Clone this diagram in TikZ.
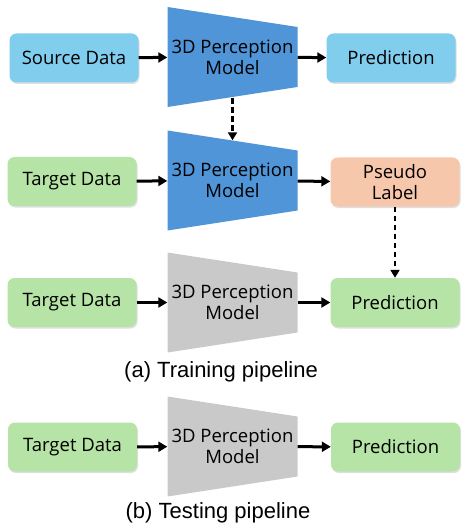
\documentclass[tikz,border=0pt]{standalone}
\usepackage{fontspec}
\setmainfont{Liberation Sans}
\newfontfamily\boxfont{Open Sans}
\usepackage{tikz}
\usetikzlibrary{arrows.meta,positioning,calc,shadows}
\usepackage{xcolor}
\definecolor{skyblue}{RGB}{128,205,237}
\definecolor{modelblue}{RGB}{80,149,216}
\definecolor{softgreen}{RGB}{182,228,166}
\definecolor{softpeach}{RGB}{247,199,172}
\definecolor{modelgray}{RGB}{201,201,201}

\tikzset{
    databox/.style={rounded corners=7pt, minimum width=129pt, minimum height=49pt,
        fill=#1, align=center, font=\boxfont\fontsize{18.5}{21}\selectfont,
        drop shadow={shadow xshift=1pt, shadow yshift=-1.5pt, opacity=0.25}},
    model/.style={minimum width=130pt, minimum height=100pt, inner sep=0pt,
        align=center, font=\boxfont\fontsize{18.5}{21}\selectfont,
        path picture={\fill[#1] (path picture bounding box.north west)
            -- ($(path picture bounding box.north east)+(0,-20pt)$)
            -- ($(path picture bounding box.south east)+(0,20pt)$)
            -- (path picture bounding box.south west) -- cycle;}},
    flow/.style={-{Triangle[length=9pt,width=10pt]}, line width=3pt},
    guide/.style={-{Triangle[length=8pt,width=9pt]}, line width=2.4pt, dash pattern=on 5.5pt off 3.5pt},
    caption/.style={font=\fontsize{22}{26}\selectfont}
}

\begin{document}
\begin{tikzpicture}[x=1pt,y=-1pt]
    \useasboundingbox (0,0) rectangle (467,529);
    % (a) training pipeline
    \node[databox=skyblue] (src) at (74,58) {Source Data};
    \node[model=modelblue] (m1) at (232.5,57) {3D Perception\\Model};
    \node[databox=skyblue] (pred1) at (391,58) {Prediction};

    \node[databox=softgreen] (tgt2) at (72,181.5) {Target Data};
    \node[model=modelblue] (m2) at (232.5,180.5) {3D Perception\\Model};
    \node[databox=softpeach] (pseudo) at (395,182) {Pseudo\\Label};

    \node[databox=softgreen] (tgt3) at (72,302.5) {Target Data};
    \node[model=modelgray] (m3) at (232.5,302.5) {3D Perception\\Model};
    \node[databox=softgreen] (pred3) at (395,302.5) {Prediction};

    \node[caption] (capa) at (221,372) {(a) Training pipeline};

    % (b) testing pipeline
    \node[databox=softgreen] (tgt4) at (72.5,447) {Target Data};
    \node[model=modelgray] (m4) at (232.5,446.5) {3D Perception\\Model};
    \node[databox=softgreen] (pred4) at (395.5,447) {Prediction};

    \node[caption] (capb) at (218,513) {(b) Testing pipeline};

    \draw[flow] (src) -- (m1);
    \draw[flow] (m1) -- (pred1);
    \draw[flow] (tgt2) -- (m2);
    \draw[flow] (m2) -- (pseudo);
    \draw[flow] (tgt3) -- (m3);
    \draw[flow] (m3) -- (pred3);
    \draw[flow] (tgt4) -- (m4);
    \draw[flow] (m4) -- (pred4);

    \draw[guide] ($(m1.south)+(0,-9)$) -- ($(m2.north)+(0,10)$);
    \draw[guide] (pseudo.south) -- (pred3.north);
\end{tikzpicture}
\end{document}
